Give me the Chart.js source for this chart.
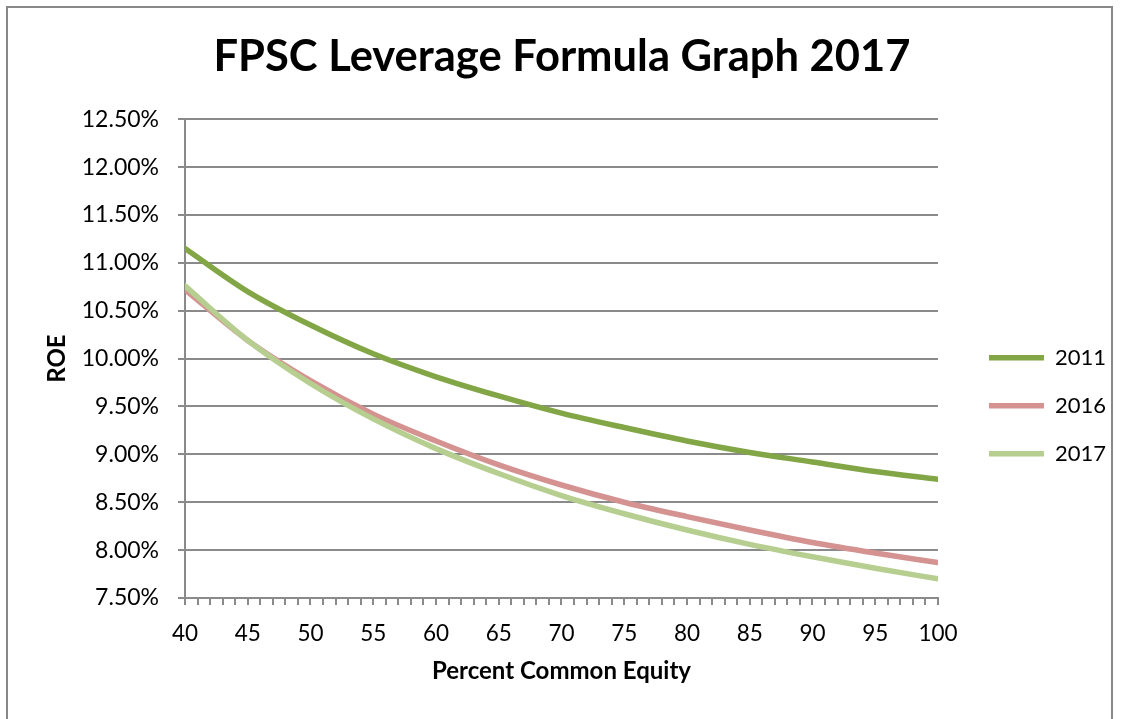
<!DOCTYPE html>
<html>
<head>
<meta charset="utf-8">
<script src="https://cdn.jsdelivr.net/npm/chart.js@4/dist/chart.umd.min.js"></script>
<style>
  html, body { margin: 0; padding: 0; background: #fff; overflow: hidden; }
  #frame { position: absolute; left: 6px; top: 6px; width: 1103px; height: 800px; border: 2px solid #888; }
  #chart { position: absolute; left: 8px; top: 8px; }
</style>
</head>
<body>
<div id="frame"></div>
<canvas id="chart" width="1114" height="711"></canvas>
<script>
// percent common equity (x) and ROE in % for each formula year
var equity  = [40, 45, 50, 55, 60, 65, 70, 75, 80, 85, 90, 95, 100];
var roe2011 = [11.15, 10.70, 10.35, 10.05, 9.81, 9.61, 9.43, 9.28, 9.14, 9.02, 8.92, 8.82, 8.74];
var roe2016 = [10.72, 10.19, 9.77, 9.42, 9.14, 8.89, 8.68, 8.50, 8.35, 8.21, 8.08, 7.97, 7.87];
var roe2017 = [10.76, 10.19, 9.74, 9.37, 9.06, 8.80, 8.57, 8.38, 8.21, 8.06, 7.93, 7.81, 7.70];
var yTicks  = [7.5, 8, 8.5, 9, 9.5, 10, 10.5, 11, 11.5, 12, 12.5];

var FONT = "Lato";
var GRID = "#8a8a8a";

function points(vals) {
    return vals.map(function(v, i) { return { x: equity[i], y: v }; });
}

function series(label, vals, color, order) {
    return {
        label: label,
        data: points(vals),
        borderColor: color,
        backgroundColor: color,
        borderWidth: 5.5,
        borderCapStyle: "round",
        pointRadius: 0,
        pointHoverRadius: 0,
        cubicInterpolationMode: "monotone",
        order: order
    };
}

new Chart(document.getElementById("chart").getContext("2d"), {
    type: "line",
    data: {
        datasets: [
            series("2011", roe2011, "#82a646", 2),
            series("2016", roe2016, "#d49391", 1),
            series("2017", roe2017, "#b6cf90", 0)
        ]
    },
    options: {
        responsive: false,
        animation: false,
        layout: { padding: { left: 0, right: 6, top: 0, bottom: 0 } },
        plugins: {
            title: {
                display: true,
                text: "FPSC Leverage Formula Graph 2017",
                color: "#000",
                font: { family: FONT, size: 43.5, weight: "bold" },
                padding: { top: 23, bottom: 36 }
            },
            legend: {
                position: "right",
                title: { display: true, text: "", font: { size: 12 }, padding: { top: 70, bottom: 0 } },
                labels: {
                    usePointStyle: true,
                    pointStyle: "line",
                    pointStyleWidth: 55,
                    padding: 26,
                    color: "#000",
                    font: { family: FONT, size: 22 },
                    sort: function(a, b) { return a.datasetIndex - b.datasetIndex; }
                }
            },
            tooltip: { enabled: false }
        },
        scales: {
            x: {
                type: "linear",
                min: 40,
                max: 100,
                afterFit: function(s) { s.height = 121; },
                border: { color: GRID, width: 2 },
                grid: { color: GRID, lineWidth: 2, drawOnChartArea: false, tickLength: 7 },
                ticks: {
                    stepSize: 1,
                    autoSkip: false,
                    maxRotation: 0,
                    padding: 15,
                    color: "#000",
                    font: { family: FONT, size: 22.5 },
                    callback: function(v) { return v % 5 === 0 ? String(v) : ""; }
                },
                title: {
                    display: true,
                    text: "Percent Common Equity",
                    color: "#000",
                    font: { family: FONT, size: 24, weight: "bold" },
                    padding: { top: 0, bottom: 33 }
                }
            },
            y: {
                min: 7.5,
                max: 12.5,
                afterFit: function(s) { s.width = 177; },
                afterBuildTicks: function(s) { s.ticks = yTicks.map(function(v) { return { value: v }; }); },
                border: { color: GRID, width: 2 },
                grid: { color: GRID, lineWidth: 2, tickLength: 7 },
                ticks: {
                    padding: 19,
                    color: "#000",
                    font: { family: FONT, size: 23 },
                    callback: function(v) { return v.toFixed(2) + "%"; }
                },
                title: {
                    display: true,
                    text: "ROE",
                    color: "#000",
                    font: { family: FONT, size: 24, weight: "bold" },
                    padding: { top: 35, bottom: 0 }
                }
            },
            // empty spacer between plot and legend
            gap: {
                type: "linear",
                position: "right",
                display: true,
                afterFit: function(s) { s.width = 25; },
                border: { display: false },
                grid: { display: false, drawTicks: false },
                ticks: { display: false }
            }
        }
    }
});
</script>
</body>
</html>
